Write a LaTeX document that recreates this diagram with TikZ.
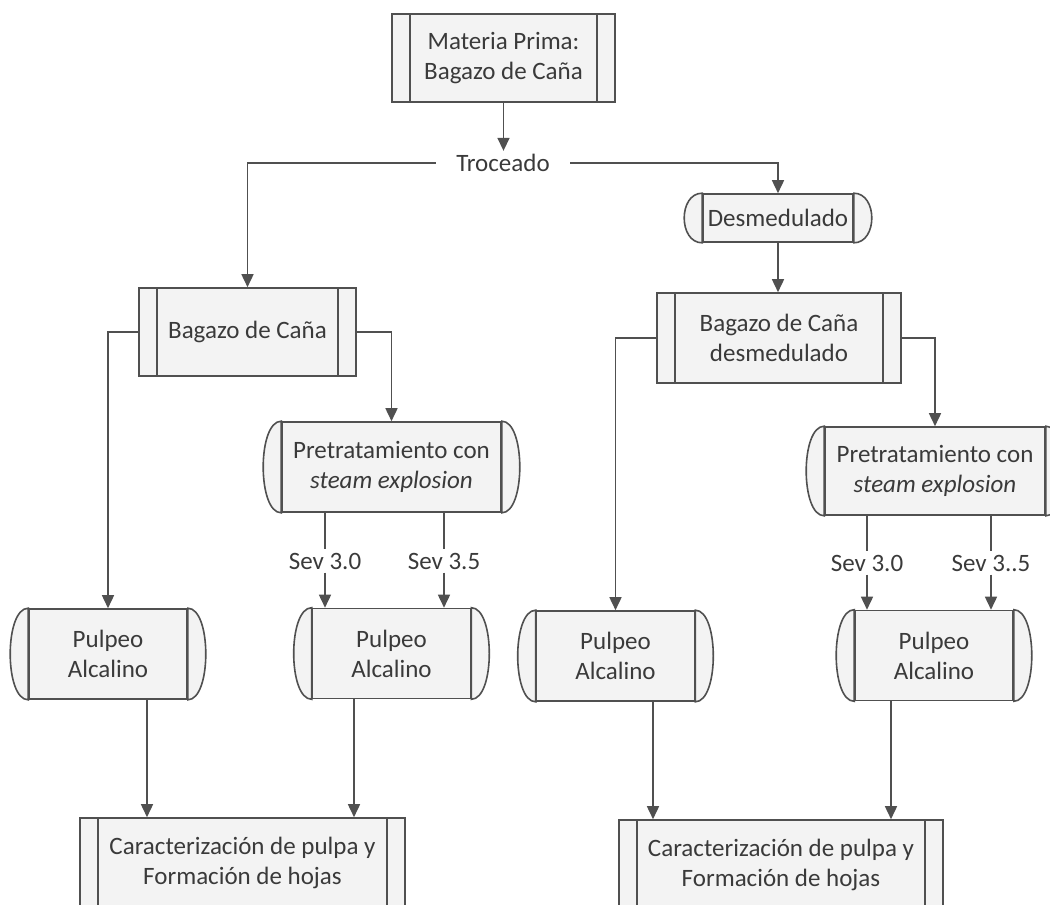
\documentclass[tikz,border=0pt]{standalone}
\usepackage{fontspec}
\setmainfont{Carlito}
\usetikzlibrary{arrows.meta,calc}

\definecolor{linegray}{HTML}{505050}
\definecolor{textgray}{HTML}{3A3A3A}
\definecolor{boxfill}{HTML}{F3F3F3}

\tikzset{
  box/.style={draw=linegray, line width=0.8pt, fill=boxfill, inner sep=0pt,
    align=center, text=textgray},
  predef/.style={box, path picture={
    \draw[linegray, line width=0.8pt]
      ([xshift=9pt]path picture bounding box.north west) -- ([xshift=9pt]path picture bounding box.south west)
      ([xshift=-9pt]path picture bounding box.north east) -- ([xshift=-9pt]path picture bounding box.south east);}},
  tube/.style={box, minimum width=79pt, minimum height=45pt},
  tubeend/.style={draw=linegray, line width=0.8pt, fill=boxfill},
  joint/.style={draw=linegray, line width=0.8pt},
  flow/.style={joint, -{Triangle[width=6pt,length=6.5pt]}},
  lbl/.style={text=textgray, inner sep=1.5pt}
}

\begin{document}
\begin{tikzpicture}[x=0.5pt,y=-0.5pt,font=\fontsize{12.5}{15}\selectfont]
\useasboundingbox (0,0) rectangle (1050,905);
\clip (0,0) rectangle (1050,905);

% nodes
\node[predef, minimum width=111.5pt, minimum height=44pt] (mp) at (503.5,58) {Materia Prima:\\Bagazo de Caña};
\node[lbl, inner xsep=10pt] (troc) at (503,163) {Troceado};
\node[tube, minimum width=75pt, minimum height=24pt] (des) at (778,218) {Desmedulado};
\node[predef, minimum width=108.5pt, minimum height=44pt] (bag1) at (247.5,332) {Bagazo de Caña};
\node[predef, minimum width=122pt, minimum height=45pt] (bag2) at (779,338) {Bagazo de Caña\\desmedulado};
\node[tube, minimum width=109.5pt] (pre1) at (391.5,467) {Pretratamiento con\\\textit{steam explosion}};
\node[tube, minimum width=110pt, minimum height=44pt] (pre2) at (935,471) {Pretratamiento con\\\textit{steam explosion}};
\node[lbl] (s1) at (325,561) {Sev 3.0};
\node[lbl] (s2) at (444,561) {Sev 3.5};
\node[lbl] (s3) at (867,563) {Sev 3.0};
\node[lbl] (s4) at (991,563) {Sev 3..5};
\node[tube] (pul1) at (108,654) {Pulpeo\\Alcalino};
\node[tube] (pul2) at (391.5,653.5) {Pulpeo\\Alcalino};
\node[tube] (pul3) at (615.5,656) {Pulpeo\\Alcalino};
\node[tube] (pul4) at (934,655.5) {Pulpeo\\Alcalino};
\node[predef, minimum width=162.5pt, minimum height=45pt] (car1) at (242.5,863) {Caracterización de pulpa y\\Formación de hojas};
\node[predef, minimum width=162pt, minimum height=45pt] (car2) at (781,865) {Caracterización de pulpa y\\Formación de hojas};

% rounded ends of the tubes
\foreach \n in {des,pre1,pre2,pul1,pul2,pul3,pul4}{
  \draw[tubeend] (\n.north east) .. controls +(24,0) and +(24,0) .. (\n.south east) -- cycle;
  \draw[tubeend] (\n.north west) .. controls +(-24,0) and +(-24,0) .. (\n.south west) -- cycle;
}

% connectors
\draw[flow] (mp.south) -- (mp.south |- troc.north);
\draw[flow] (troc.west) -| (bag1.north);
\draw[flow] (troc.east) -| (des.north);
\draw[flow] (des.south) -- (des.south |- bag2.north);
\draw[flow] (bag1.west) -| (pul1.north);
\draw[flow] (bag1.east) -| (pre1.north);
\draw[flow] (bag2.west) -| (pul3.north);
\draw[flow] (bag2.east) -| (pre2.north);
\foreach \s/\p/\q in {s1/pre1/pul2, s2/pre1/pul2, s3/pre2/pul4, s4/pre2/pul4}{
  \draw[joint] (\p.south -| \s.north) -- (\s.north);
  \draw[flow] (\s.south) -- (\s.south |- \q.north);
}
\foreach \p/\dx/\c [count=\i] in {pul1/39/car1, pul2/-37.5/car1, pul3/37.5/car2, pul4/-43/car2}{
  \coordinate (out\i) at ($(\p.south)+(\dx,0)$);
  \draw[flow] (out\i) -- (out\i |- \c.north);
}
\end{tikzpicture}
\end{document}
